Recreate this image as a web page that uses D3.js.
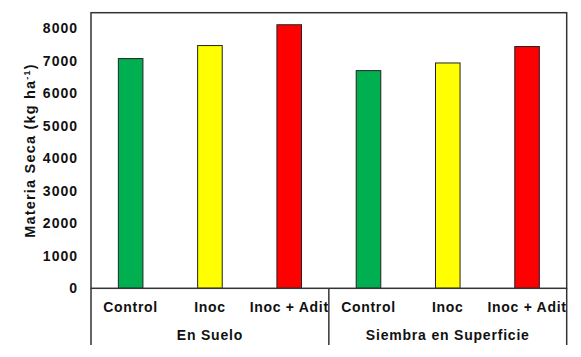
<!DOCTYPE html>
<html><head><meta charset="utf-8">
<script src="https://cdn.jsdelivr.net/npm/d3@7"></script>
<style>
html,body{margin:0;padding:0;background:#fff;}
svg{display:block;font-family:Arial,"Liberation Sans",sans-serif;}
</style></head>
<body><svg id="c" width="581" height="357"></svg>
<script>
const categories = ["Control","Inoc","Inoc + Adit","Control","Inoc","Inoc + Adit"];
const groups = ["En Suelo","Siembra en Superficie"];
const values = [7060, 7460, 8100, 6690, 6925, 7430];
const barColors = ["#00B050","#FFFF00","#FF0000","#00B050","#FFFF00","#FF0000"];
const yTicks = [0,1000,2000,3000,4000,5000,6000,7000,8000];
const yTitle = "Materia Seca (kg ha";

const svg = d3.select("#c");
const L = 91, R = 566.7, T = 12.7, B = 288.3;
const y = d3.scaleLinear().domain([0, 8470]).range([B, T]);
const x = d3.scaleBand().domain(d3.range(categories.length)).range([L, R]).paddingInner(0.69).paddingOuter(0.345);

// bars
svg.append("g").selectAll("rect").data(values).join("rect")
  .attr("x", (d,i)=>x(i)).attr("width", x.bandwidth())
  .attr("y", d=>y(d)).attr("height", d=>B - y(d))
  .attr("fill", (d,i)=>barColors[i]).attr("stroke", "#222").attr("stroke-width", 1);

// plot frame
svg.append("rect").attr("x", L).attr("y", T).attr("width", R-L).attr("height", B-T)
  .attr("fill","none").attr("stroke","#333").attr("stroke-width",1.5);

// y axis labels
const yAxis = d3.axisLeft(y).tickValues(yTicks).tickFormat(d3.format("d")).tickSize(0).tickPadding(13);
const ga = svg.append("g").attr("transform", `translate(${L},0)`).call(yAxis);
ga.select(".domain").remove();
ga.selectAll("text").attr("font-size", 14).attr("font-weight","bold").attr("fill","#111")
  .attr("font-family","Arial, 'Liberation Sans', sans-serif").style("letter-spacing","1px");

// category labels
svg.append("g").selectAll("text").data(categories).join("text")
  .attr("x", (d,i)=>x(i)+x.bandwidth()/2).attr("y", 312)
  .attr("text-anchor","middle").attr("font-size",14).attr("font-weight","bold").attr("fill","#111")
  .style("letter-spacing","0.7px").text(d=>d);

// group separators
const step = x.step();
const seps = [L, L + 3*step, R];
svg.append("g").selectAll("line").data(seps).join("line")
  .attr("x1", d=>d).attr("x2", d=>d).attr("y1", B).attr("y2", 345)
  .attr("stroke","#333").attr("stroke-width",1.5);

// group labels
svg.append("g").selectAll("text").data(groups).join("text")
  .attr("x", (d,i)=> (seps[i]+seps[i+1])/2).attr("y", 340)
  .attr("text-anchor","middle").attr("font-size",14).attr("font-weight","bold").attr("fill","#111")
  .style("letter-spacing","0.8px").text(d=>d);

// y title
const t = svg.append("text").attr("transform", `translate(35,${(T+B)/2}) rotate(-90)`)
  .attr("text-anchor","middle").attr("font-size",14.5).attr("font-weight","bold").attr("fill","#111")
  .style("letter-spacing","1.2px");
t.append("tspan").text(yTitle);
t.append("tspan").attr("dy",-5).attr("font-size",9).text("-1");
t.append("tspan").attr("dy",5).text(")");
</script></body></html>
